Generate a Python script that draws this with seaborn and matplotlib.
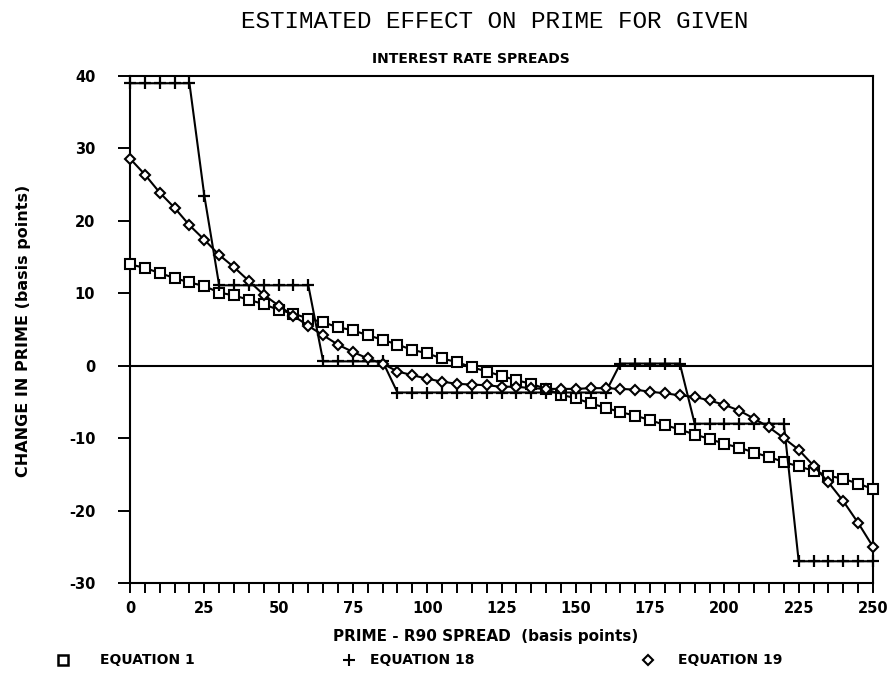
import matplotlib
matplotlib.use("Agg")
import matplotlib.pyplot as plt
import pandas as pd
import seaborn as sns
from matplotlib.lines import Line2D
from matplotlib.ticker import MultipleLocator

# PRIME - R90 spread (basis points)
spread = list(range(0, 255, 5))

# Equation 1: estimated change in prime (basis points)
eq1 = [14.0, 13.5, 12.8, 12.1, 11.5, 11.0, 10.1, 9.7, 9.1, 8.5,
       7.7, 7.2, 6.5, 6.0, 5.3, 4.9, 4.2, 3.6, 2.9, 2.2,
       1.7, 1.0, 0.5, -0.2, -0.8, -1.4, -2.0, -2.5, -3.2, -4.0,
       -4.5, -5.2, -5.8, -6.4, -6.9, -7.5, -8.2, -8.8, -9.5, -10.1,
       -10.8, -11.3, -12.0, -12.6, -13.3, -13.9, -14.5, -15.2, -15.6, -16.3,
       -17.0]

# Equation 18: step-wise response
eq18 = [39.0, 39.0, 39.0, 39.0, 39.0, 23.5, 11.1, 11.1, 11.1, 11.1,
        11.1, 11.1, 11.1, 0.6, 0.6, 0.6, 0.6, 0.6, -3.7, -3.7,
        -3.7, -3.7, -3.7, -3.7, -3.7, -3.7, -3.7, -3.7, -3.7, -3.7,
        -3.7, -3.7, -3.7, 0.3, 0.3, 0.3, 0.3, 0.3, -8.0, -8.0,
        -8.0, -8.0, -8.0, -8.0, -8.0, -27.0, -27.0, -27.0, -27.0, -27.0,
        -27.0]

# Equation 19: smooth nonlinear response
eq19 = [28.6, 26.4, 23.9, 21.8, 19.4, 17.4, 15.3, 13.6, 11.7, 9.8,
        8.3, 6.9, 5.5, 4.2, 2.9, 1.9, 1.0, 0.3, -0.8, -1.3,
        -1.8, -2.2, -2.5, -2.6, -2.7, -2.9, -2.9, -3.1, -3.2, -3.2,
        -3.2, -3.1, -3.1, -3.2, -3.3, -3.6, -3.8, -4.1, -4.3, -4.8,
        -5.4, -6.2, -7.3, -8.5, -10.0, -11.6, -13.8, -16.1, -18.7, -21.7,
        -25.0]

labels = ["EQUATION 1", "EQUATION 18", "EQUATION 19"]

df = pd.DataFrame({
    "spread": spread * 3,
    "change": eq1 + eq18 + eq19,
    "equation": [labels[0]] * len(spread) + [labels[1]] * len(spread) + [labels[2]] * len(spread),
})

sns.set_theme(style="ticks")
plt.rcParams["axes.unicode_minus"] = False
plt.rcParams["font.family"] = ["DejaVu Sans"]

INK = "black"
LW = 1.5

fig = plt.figure(figsize=(8.9, 6.75), dpi=100)
ax = fig.add_axes([130 / 890, 1 - 583 / 675, 743 / 890, 507 / 675])

marker_style = {
    labels[0]: dict(marker="s", markersize=6.5, markerfacecolor="white",
                    markeredgecolor=INK, markeredgewidth=1.5),
    labels[1]: dict(marker="+", markersize=9, markeredgecolor=INK,
                    markeredgewidth=1.6),
    labels[2]: dict(marker="D", markersize=5, markerfacecolor="white",
                    markeredgecolor=INK, markeredgewidth=1.5),
}

ax.axhline(0, color=INK, lw=LW, zorder=1)

for lab in labels:
    sub = df[df["equation"] == lab]
    sns.lineplot(data=sub, x="spread", y="change", ax=ax, color=INK,
                 lw=LW, clip_on=False, legend=False, zorder=3,
                 **marker_style[lab])

ax.set_xlim(0, 250)
ax.set_ylim(-30, 40)
ax.xaxis.set_major_locator(MultipleLocator(25))
ax.xaxis.set_minor_locator(MultipleLocator(5))
ax.yaxis.set_major_locator(MultipleLocator(10))

for side in ["left", "right", "top", "bottom"]:
    ax.spines[side].set_visible(True)
    ax.spines[side].set_color(INK)
    ax.spines[side].set_linewidth(LW)

ax.tick_params(axis="x", which="both", direction="out", length=7, width=1.4,
               color=INK, pad=6)
ax.tick_params(axis="y", which="major", direction="out", length=9, width=1.4,
               color=INK, pad=16)
for t in ax.get_xticklabels() + ax.get_yticklabels():
    t.set_fontweight("bold")
    t.set_fontsize(10.5)
    t.set_color(INK)

ax.set_xlabel("")
ax.set_ylabel("")

# Titles and axis captions
fig.text(495 / 890, 1 - 22 / 675, "ESTIMATED EFFECT ON PRIME FOR GIVEN",
         ha="center", va="center", fontsize=17.5, family=["Liberation Mono"],
         color=INK)
fig.text(471 / 890, 1 - 59 / 675, "INTEREST RATE SPREADS",
         ha="center", va="center", fontsize=10, fontweight="bold", color=INK)
fig.text(486 / 890, 1 - 637 / 675, "PRIME - R90 SPREAD  (basis points)",
         ha="center", va="center", fontsize=11, fontweight="bold", color=INK)
fig.text(24 / 890, 1 - 331 / 675, "CHANGE IN PRIME (basis points)",
         ha="center", va="center", rotation=90, fontsize=11.5,
         fontweight="bold", color=INK)

# Legend row beneath the x-axis caption
legend_y = 1 - 660 / 675
legend_items = [
    (63, 100, labels[0], dict(marker="s", markersize=6.5, markerfacecolor="white",
                               markeredgecolor=INK, markeredgewidth=1.8)),
    (349, 370, labels[1], dict(marker="+", markersize=8, markeredgecolor=INK,
                                markeredgewidth=1.5)),
    (648, 678, labels[2], dict(marker="D", markersize=5, markerfacecolor="white",
                                markeredgecolor=INK, markeredgewidth=1.5)),
]
for mx, tx, text, style in legend_items:
    fig.add_artist(Line2D([mx / 890], [legend_y], transform=fig.transFigure,
                          linestyle="none", **style))
    fig.text(tx / 890, legend_y, text, ha="left", va="center", fontsize=10,
             fontweight="bold", color=INK)

fig.savefig("out.png", dpi=100, facecolor="white")
